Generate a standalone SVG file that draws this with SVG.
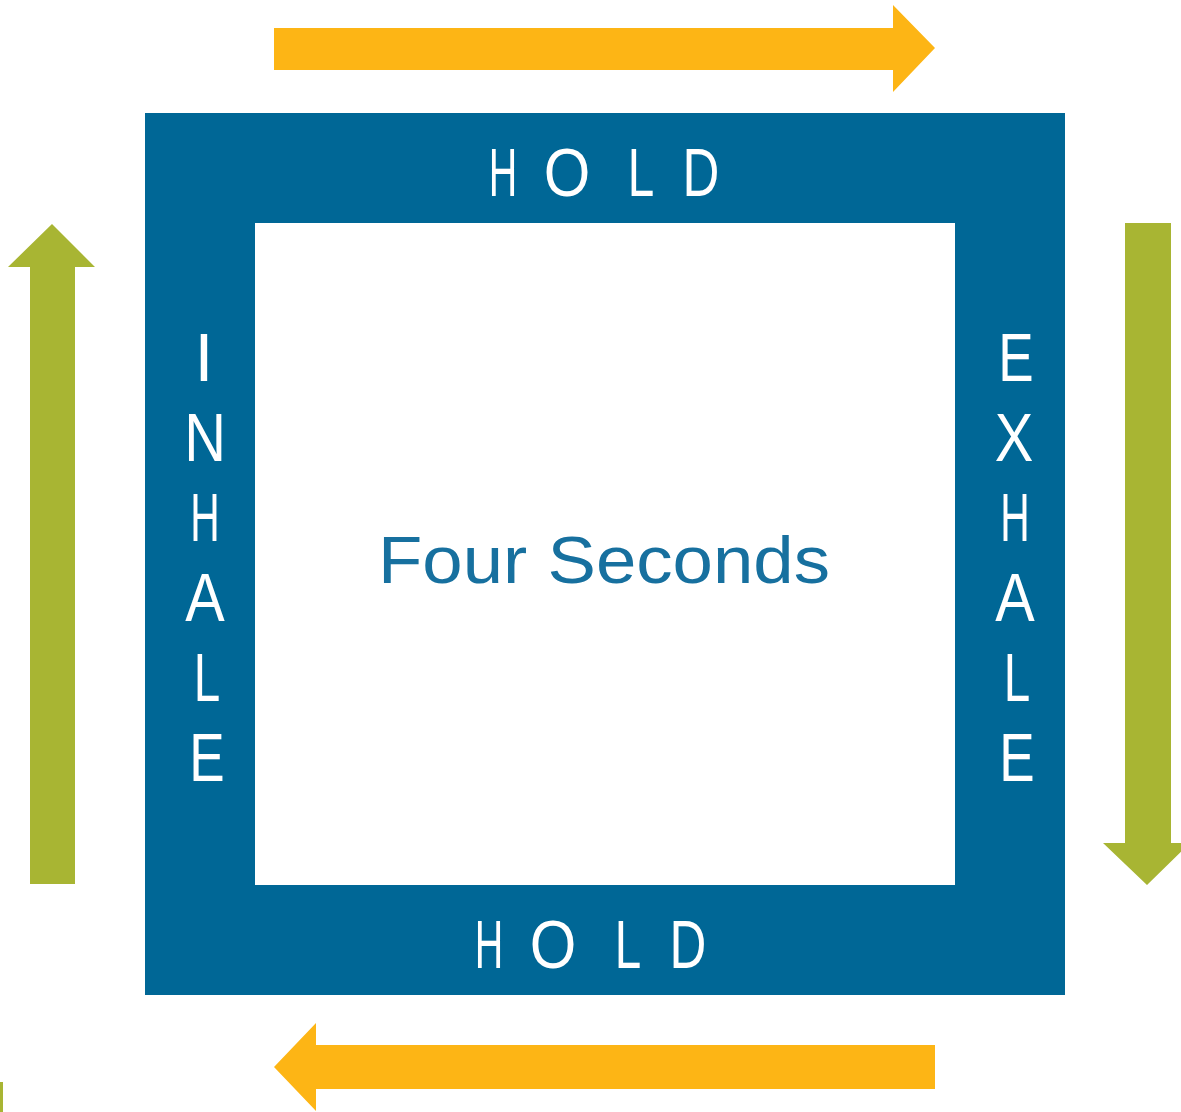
<svg xmlns="http://www.w3.org/2000/svg" width="1181" height="1112" viewBox="0 0 1181 1112">
<style>
.cap{font-family:"Liberation Sans",Arial,sans-serif;font-size:68px;fill:#ffffff;text-anchor:middle}
.orange{fill:#FDB515}
.green{fill:#A8B533}
</style>
<rect x="0" y="0" width="1181" height="1112" fill="#ffffff"/>
<g id="box">
<path d="M145 113H1065V995H145Z M255 223V885H955V223Z" fill="#006796" fill-rule="evenodd"/>
<text x="604" y="583" font-family="'Liberation Sans',Arial,sans-serif" font-size="66" fill="#17709F" text-anchor="middle" textLength="452" lengthAdjust="spacingAndGlyphs">Four Seconds</text>
</g>
<g id="hold-top">
<text class="cap" transform="translate(503,196) scale(0.58,1)">H</text>
<text class="cap" transform="translate(567,196) scale(0.88,1)">O</text>
<text class="cap" transform="translate(641,196) scale(0.7,1)">L</text>
<text class="cap" transform="translate(701,196) scale(0.75,1)">D</text>
</g>
<g id="hold-bottom">
<text class="cap" transform="translate(489,968) scale(0.58,1)">H</text>
<text class="cap" transform="translate(553,968) scale(0.88,1)">O</text>
<text class="cap" transform="translate(628,968) scale(0.7,1)">L</text>
<text class="cap" transform="translate(688,968) scale(0.75,1)">D</text>
</g>
<g id="inhale">
<text class="cap" transform="translate(204,381) scale(1,1)">I</text>
<text class="cap" transform="translate(205,461) scale(0.85,1)">N</text>
<text class="cap" transform="translate(205,541) scale(0.6,1)">H</text>
<text class="cap" transform="translate(205,621) scale(0.87,1)">A</text>
<text class="cap" transform="translate(207,701) scale(0.7,1)">L</text>
<text class="cap" transform="translate(207,781) scale(0.78,1)">E</text>
</g>
<g id="exhale">
<text class="cap" transform="translate(1016,381) scale(0.78,1)">E</text>
<text class="cap" transform="translate(1014,461) scale(0.85,1)">X</text>
<text class="cap" transform="translate(1015,541) scale(0.6,1)">H</text>
<text class="cap" transform="translate(1015,621) scale(0.87,1)">A</text>
<text class="cap" transform="translate(1017,701) scale(0.7,1)">L</text>
<text class="cap" transform="translate(1017,781) scale(0.78,1)">E</text>
</g>
<g id="connectors">
<path class="orange" d="M274 28H893V5L935 48L893 92V70H274Z"/>
<path class="orange" d="M935 1045H316V1023L274 1067L316 1111V1089H935Z"/>
<path class="green" d="M30 884V267H8L52 224L95 267H75V884Z"/>
<path class="green" d="M1125 223H1171V843H1190L1147 885L1103 843H1125Z"/>
<rect class="green" x="0" y="1082" width="3" height="30"/>
</g>
</svg>
